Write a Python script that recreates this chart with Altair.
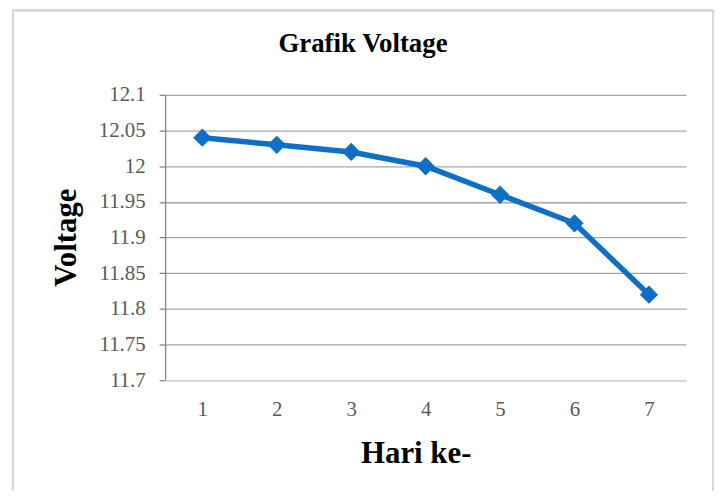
import altair as alt
import pandas as pd

days = ["1", "2", "3", "4", "5", "6", "7"]
voltage = [12.04, 12.03, 12.02, 12.00, 11.96, 11.92, 11.82]
y_ticks = [11.7, 11.75, 11.8, 11.85, 11.9, 11.95, 12.0, 12.05, 12.1]

df = pd.DataFrame({"Hari": days, "Voltage": voltage})

FONT = "Liberation Serif"
BLUE = "#0F6FC6"

x_enc = alt.X(
    "Hari:N",
    sort=days,
    scale=alt.Scale(type="point", padding=0.5),
    axis=alt.Axis(
        title="Hari ke-",
        labelAngle=0,
        ticks=False,
        domainColor="#D9D9D9",
        domainWidth=2,
        labelPadding=18,
        titleX=252,
        titleY=74,
        titleAlign="center",
        titleFontSize=31,
        titleBaseline="middle",
        zindex=1,
    ),
)
y_enc = alt.Y(
    "Voltage:Q",
    scale=alt.Scale(domain=[11.7, 12.1], nice=False, zero=False),
    axis=alt.Axis(
        title="Voltage",
        values=y_ticks,
        labelExpr="datum.value === 12 ? '12' : format(datum.value, '.4~f')",
        tickSize=6,
        tickColor="#868686",
        domainColor="#868686",
        domainWidth=1.3,
        tickWidth=1.3,
        labelPadding=14,
        gridColor="#A6A6A6",
        gridWidth=1.3,
        titleX=-99,
        titleY=143,
        titleFontSize=31,
        titleAngle=-90,
        titleAlign="center",
        titleBaseline="middle",
    ),
)

base = alt.Chart(df)

frame = base.mark_rect(fill="transparent", stroke="#D9D9D9", strokeWidth=2).encode(
    x=alt.value(-153), x2=alt.value(551), y=alt.value(-85), y2=alt.value(420)
)

line = base.mark_line(color=BLUE, strokeWidth=5.5).encode(x=x_enc, y=y_enc)
points = base.mark_point(
    shape="diamond", filled=True, color=BLUE, size=340, opacity=1
).encode(x=x_enc, y=y_enc)

chart = (
    alt.layer(frame, line, points)
    .properties(
        width=524,
        height=287,
        autosize=alt.AutoSizeParams(type="none"),
        padding={"left": 158, "top": 86, "right": 30, "bottom": 110},
        title=alt.TitleParams(
            "Grafik Voltage",
            font=FONT,
            fontSize=27,
            fontWeight="bold",
            color="#000000",
            anchor="middle",
            baseline="alphabetic",
            dx=-63,
            dy=70,
            offset=0,
        ),
    )
    .configure_view(stroke=None)
    .configure_axis(
        labelFont=FONT,
        labelFontSize=21,
        labelColor="#595959",
        titleFont=FONT,
        titleFontWeight="bold",
        titleColor="#000000",
    )
)

chart.save("out.html", embed_options={"renderer": "svg", "actions": False})
